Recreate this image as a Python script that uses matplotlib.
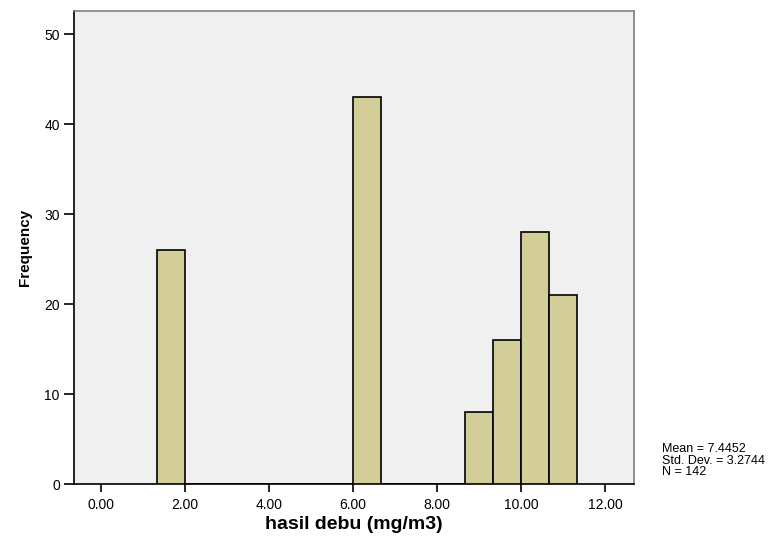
import numpy as np
import matplotlib
matplotlib.use("Agg")
import matplotlib.pyplot as plt

plt.rcParams['font.family'] = ['Liberation Sans', 'DejaVu Sans']

# histogram bins (width 2/3) and counts
bin_left = [4/3, 6.0, 26/3, 28/3, 10.0, 32/3]
bin_width = 2/3
counts = [26, 43, 8, 16, 28, 21]
xticks = [0, 2, 4, 6, 8, 10, 12]
yticks = [0, 10, 20, 30, 40, 50]
stats_text = "Mean = 7.4452\nStd. Dev. = 3.2744\nN = 142"

fig = plt.figure(figsize=(7.82, 5.36), dpi=100)
ax = fig.add_axes([0.0942, 0.097, 0.7162, 0.883])
ax.set_facecolor('#f0f0f0')

ax.bar(bin_left, counts, width=bin_width, align='edge',
       color='#d3ce97', edgecolor='black', linewidth=1.2, zorder=3)
# empty bins drawn as baseline
ax.plot([4/3, 34/3], [0, 0], color='black', linewidth=1.2, zorder=2)

ax.set_xlim(-0.657, 12.68)
ax.set_ylim(0, 52.6)
ax.set_xticks(xticks)
ax.set_xticklabels(['%.2f' % v for v in xticks])
ax.set_yticks(yticks)

for s in ['top', 'right']:
    ax.spines[s].set_color('#808080')
for s in ['left', 'bottom']:
    ax.spines[s].set_color('black')
for s in ax.spines.values():
    s.set_linewidth(1.2)

ax.tick_params(axis='y', length=7.5, width=1.2, pad=2.5, labelsize=10)
ax.tick_params(axis='x', length=6, width=1.2, pad=4, labelsize=10)

ax.set_xlabel('hasil debu (mg/m3)', fontsize=14, fontweight='bold', labelpad=3)
ax.set_ylabel('Frequency', fontsize=11, fontweight='bold', labelpad=9)

fig.text(662 / 782, 1 - 443 / 536, stats_text, fontsize=9, va='top',
         ha='left', linespacing=0.95)

fig.savefig('out.png', dpi=100)
